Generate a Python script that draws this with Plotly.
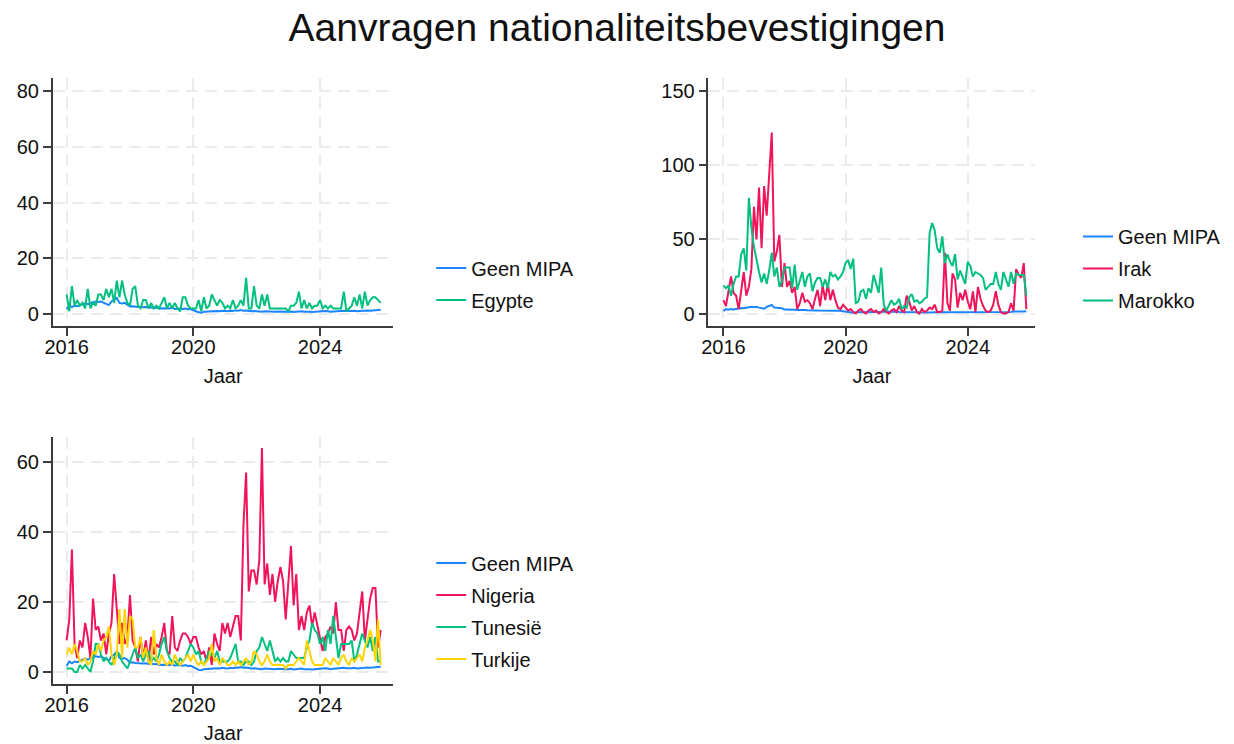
import plotly.graph_objects as go

# ---------------- data (monthly, Jan 2016 - Dec 2025) ----------------
start_year = 2016

geen_mipa = [1.7, 3.0, 2.5, 3.0, 2.8, 3.2, 3.5, 3.8, 3.5, 4.0, 4.2, 4.5,
             4.3, 4.5, 4.0, 3.8, 3.2, 4.5, 5.0, 5.8, 4.0, 3.8, 4.0, 3.5,
             2.7, 2.8, 2.6, 2.5, 2.6, 2.4, 2.5, 2.3, 2.4, 2.2, 2.3, 2.0,
             2.1, 2.0, 1.9, 2.0, 2.2, 1.8, 2.0, 1.9, 1.8, 2.0, 1.7, 1.8,
             1.5, 1.0, 0.6, 0.5, 0.8, 0.9, 1.0, 0.9, 1.0, 1.1, 1.0, 1.2,
             1.1, 1.0, 1.2, 1.1, 1.3, 1.2, 1.4, 1.2, 1.3, 1.1, 1.0, 1.1,
             1.0, 0.9, 0.8, 1.0, 0.9, 0.8, 0.7, 0.8, 0.9, 0.8, 0.7, 0.8,
             0.8, 0.9, 0.7, 0.8, 0.9, 1.0, 0.8, 0.9, 0.8, 0.7, 0.8, 0.9,
             0.9, 1.0, 1.1, 1.0, 0.8, 0.9, 1.0, 1.1, 1.0, 1.2, 1.1, 1.0,
             1.1, 1.2, 1.0, 1.1, 1.2, 1.1, 1.3, 1.2, 1.3, 1.4, 1.3, 1.5]

egypte = [7, 1, 10, 3, 5, 3, 4, 2, 9, 2, 4, 3,
          7, 7, 5, 9, 6, 9, 4, 12, 6, 12, 7, 4,
          3, 9, 10, 3, 2, 5, 5, 2, 4, 2, 3, 2,
          4, 6, 2, 4, 2, 4, 2, 1, 6, 6, 3, 2,
          2, 2, 5, 1, 6, 2, 3, 7, 5, 3, 5, 4,
          2, 3, 2, 5, 2, 3, 5, 3, 13, 2, 2, 10,
          3, 2, 7, 3, 7, 2, 2, 2, 2, 2, 2, 2,
          1, 3, 3, 4, 8, 2, 5, 2, 4, 2, 3, 3,
          5, 2, 3, 2, 3, 2, 2, 2, 2, 8, 1, 2,
          3, 6, 3, 7, 2, 8, 3, 5, 6, 6, 5, 4]

irak = [9, 5, 15, 25, 14, 12, 3, 15, 28, 12, 18, 30,
        72, 50, 85, 44, 86, 66, 96, 122, 35, 42, 53, 18,
        34, 18, 22, 14, 18, 3, 7, 14, 8, 9, 7, 3,
        10, 16, 5, 19, 9, 20, 9, 16, 9, 4, 3, 6,
        4, 2, 3, 1, 0, 2, 3, 1, 0, 2, 3, 1,
        2, 0, 1, 3, 1, 0, 2, 3, 1, 5, 2, 1,
        12, 8, 2, 5, 1, 0, 3, 1, 2, 4, 3, 6,
        1, 1, 2, 41, 7, 2, 27, 23, 4, 14, 9, 16,
        8, 3, 15, 1, 18, 10, 5, 2, 1, 2, 6, 15,
        6, 1, 0, 0, 1, 7, 2, 30, 26, 24, 34, 3]

marokko = [19, 17, 19, 12, 20, 25, 25, 40, 44, 29, 78, 58,
           45, 36, 28, 21, 27, 20, 29, 41, 25, 31, 18, 22,
           31, 31, 31, 17, 33, 16, 23, 28, 18, 25, 27, 15,
           21, 24, 24, 18, 23, 17, 28, 25, 26, 23, 25, 28,
           34, 36, 30, 37, 7, 8, 15, 16, 10, 17, 14, 26,
           20, 14, 31, 6, 2, 5, 9, 6, 7, 10, 3, 5,
           4, 11, 13, 8, 9, 7, 8, 10, 11, 54, 61, 56,
           44, 41, 52, 34, 40, 35, 32, 40, 23, 29, 25, 20,
           35, 32, 25, 28, 27, 26, 24, 16, 18, 20, 20, 28,
           20, 16, 28, 23, 18, 28, 20, 27, 26, 26, 26, 12]

nigeria = [9, 15, 35, 8, 4, 9, 7, 14, 10, 4, 21, 12,
           13, 9, 11, 5, 11, 14, 28, 17, 8, 14, 8, 10,
           22, 9, 7, 3, 10, 4, 9, 3, 10, 5, 8, 7,
           10, 14, 6, 5, 16, 7, 6, 9, 11, 11, 10, 8,
           10, 10, 7, 5, 6, 3, 7, 2, 11, 8, 6, 14,
           11, 14, 10, 13, 16, 16, 9, 42, 57, 23, 29, 29,
           25, 32, 64, 25, 31, 22, 28, 20, 26, 30, 26, 15,
           26, 36, 19, 28, 12, 16, 12, 17, 19, 13, 17, 13,
           9, 6, 10, 11, 13, 11, 20, 12, 12, 6, 12, 13,
           12, 9, 11, 17, 23, 9, 16, 21, 24, 24, 7, 12]

tunesie = [1, 1, 1, 0, 0, 2, 1, 2, 1, 0, 3, 8,
           8, 5, 3, 4, 3, 2, 4, 6, 5, 3, 2, 1,
           3, 5, 7, 4, 5, 3, 5, 6, 3, 4, 3, 5,
           8, 10, 6, 4, 3, 3, 2, 4, 3, 4, 6, 8,
           7, 5, 6, 3, 2, 4, 6, 5, 4, 6, 3, 3,
           3, 3, 4, 6, 8, 3, 3, 2, 3, 3, 2, 3,
           6, 7, 10, 8, 6, 9, 6, 3, 4, 3, 4, 3,
           3, 6, 5, 4, 4, 4, 4, 7, 9, 14, 12, 11,
           8, 10, 6, 12, 8, 16, 9, 4, 8, 8, 8, 8,
           9, 3, 5, 8, 11, 9, 7, 10, 6, 10, 3, 3]

turkije = [5, 7, 5, 8, 6, 3, 3, 4, 2, 3, 6, 5,
           8, 6, 9, 10, 13, 5, 2, 5, 18, 4, 18, 7,
           16, 15, 7, 7, 10, 4, 7, 3, 2, 12, 4, 2,
           5, 3, 2, 3, 2, 5, 3, 2, 3, 4, 5, 3,
           5, 3, 2, 3, 2, 3, 4, 8, 3, 4, 2, 4,
           3, 2, 2, 3, 2, 3, 2, 3, 4, 2, 3, 6,
           5, 3, 2, 3, 5, 3, 2, 2, 2, 2, 2, 1,
           2, 2, 2, 3, 4, 3, 2, 9, 6, 3, 2, 2,
           2, 2, 4, 3, 2, 4, 3, 2, 4, 5, 3, 2,
           4, 3, 4, 5, 3, 7, 9, 12, 9, 3, 15, 2]

x_tickvals = [2016, 2020, 2024]
y1_tickvals = [0, 20, 40, 60, 80]
y2_tickvals = [0, 50, 100, 150]
y3_tickvals = [0, 20, 40, 60]

title_text = "Aanvragen nationaliteitsbevestigingen"
x_title = "Jaar"

# time axis (decimal years)
jaar = [start_year + i / 12 for i in range(len(geen_mipa))]

colors = {
    "Geen MIPA": "#1a85ff",
    "Egypte": "#00bf7f",
    "Irak": "#f0145a",
    "Marokko": "#00bf7f",
    "Nigeria": "#f0145a",
    "Tunesië": "#00bf7f",
    "Turkije": "#ffd400",
}

panels = [
    ("x", "y", "legend", [("Geen MIPA", geen_mipa), ("Egypte", egypte)]),
    ("x2", "y2", "legend2", [("Geen MIPA", geen_mipa), ("Irak", irak), ("Marokko", marokko)]),
    ("x3", "y3", "legend3", [("Geen MIPA", geen_mipa), ("Nigeria", nigeria),
                             ("Tunesië", tunesie), ("Turkije", turkije)]),
]

W, H = 1234, 744
FONT = "Liberation Sans, Arial, Helvetica, sans-serif"

fig = go.Figure()
for xa, ya, lg, series in panels:
    for name, vals in series:
        fig.add_trace(go.Scatter(
            x=jaar, y=vals, mode="lines", name=name,
            line=dict(color=colors[name], width=2),
            xaxis=xa, yaxis=ya, legend=lg, legendgroup=f"{lg}-{name}",
            hoverinfo="x+y+name",
        ))


def px_x(a, b):
    return [a / W, b / W]


def px_y(top, bottom):
    return [1 - bottom / H, 1 - top / H]


axis_common = dict(
    showline=True, linecolor="#3c3c3c", linewidth=1.5,
    ticks="outside", ticklen=8, tickwidth=1.5, tickcolor="#3c3c3c",
    showgrid=True, gridcolor="#ebebeb", gridwidth=2, griddash="12px,7px",
    zeroline=False, tickfont=dict(size=20, color="#111111", family=FONT),
    fixedrange=True,
)

xaxis_common = dict(axis_common, tickvals=x_tickvals, ticklabelstandoff=-6,
                    title=dict(text=x_title, font=dict(size=20, color="#111111", family=FONT), standoff=12))

legend_common = dict(
    font=dict(size=20, color="#111111", family=FONT),
    bgcolor="rgba(0,0,0,0)", borderwidth=0,
    traceorder="grouped", tracegroupgap=3,
    xanchor="left", yanchor="middle",
)

fig.update_layout(
    width=W, height=H,
    margin=dict(l=0, r=0, t=0, b=0),
    paper_bgcolor="white", plot_bgcolor="white",
    font=dict(family=FONT, color="#111111"),
    title=dict(text=title_text, x=0.5, xanchor="center", y=1 - 27 / H, yanchor="middle",
               font=dict(size=39, color="#111111", family=FONT)),
    xaxis=dict(xaxis_common, domain=px_x(45, 388), range=[2015.56, 2026.32], anchor="y"),
    yaxis=dict(axis_common, domain=px_y(78, 326), range=[-4.3, 84.66], tickvals=y1_tickvals, anchor="x"),
    xaxis2=dict(xaxis_common, domain=px_x(705, 1034), range=[2015.51, 2026.21], anchor="y2"),
    yaxis2=dict(axis_common, domain=px_y(78, 326), range=[-8.4, 158.8], tickvals=y2_tickvals, anchor="x2"),
    xaxis3=dict(xaxis_common, domain=px_x(45, 388), range=[2015.56, 2026.32], anchor="y3"),
    yaxis3=dict(axis_common, domain=px_y(437, 684), range=[-3.43, 67.14], tickvals=y3_tickvals, anchor="x3"),
    legend=dict(legend_common, x=(468 - 42) / W, y=1 - 284 / H),
    legend2=dict(legend_common, x=(1119 - 42) / W, y=1 - 268.5 / H),
    legend3=dict(legend_common, x=(468 - 42) / W, y=1 - 611 / H),
    hovermode="closest",
)

fig.write_html("out.html", config={"displayModeBar": False},
               post_script="document.body.style.margin='0';")
